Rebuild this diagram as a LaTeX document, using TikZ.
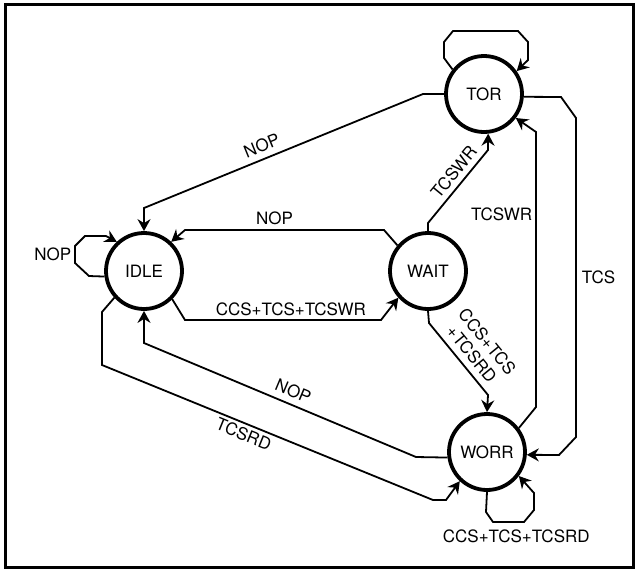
\documentclass[tikz,border=0pt]{standalone}
\usepackage{fontspec}
\setmainfont{TeX Gyre Heros}
\usetikzlibrary{arrows.meta}
\tikzset{
  state/.style={draw, circle, line width=3.8pt, minimum size=76pt, inner sep=0pt,
    font=\fontsize{17}{20}\selectfont},
  tr/.style={line width=1.8pt, -{Stealth[length=12pt,width=13pt,inset=4pt]}},
  lbl/.style={font=\fontsize{17}{20}\selectfont, inner sep=3pt}
}
\begin{document}
\begin{tikzpicture}[x=1pt, y=-1pt]
  \useasboundingbox (0,0) rectangle (636,571);
  \draw[line width=3pt] (5,4) rectangle (633,567);
  \node[state] (tor)  at (484,94)  {TOR};
  \node[state] (idle) at (144,271) {IDLE};
  \node[state] (wait) at (428,271) {WAIT};
  \node[state] (worr) at (487,452) {WORR};
  % loops
  \draw[tr] (tor.142) -- (444,58) -- (444,42) -- (453,31) -- (518,31) -- (528,42) -- (528,60) -- (tor.35);
  \draw[tr] (idle.-172) -- (89,276) -- (75,263) -- (75,246) node[lbl, midway, left] {NOP}
    -- (85,236) -- (106,236) -- (idle.133);
  \draw[tr] (worr.south) -- (486,512) -- (493,522) -- (524,522) node[lbl, pos=0.75, below=4pt] {CCS+TCS+TCSRD}
    -- (534,510) -- (534,493) -- (worr.-37);
  % transitions
  \draw[tr] (tor.west) -- (423,94) -- (144,208) node[lbl, pos=0.56, sloped, above=3pt] {NOP} -- (idle.north);
  \draw[tr] (wait.140) -- (384,230) -- (185,230) node[lbl, pos=0.55, above=1pt] {NOP} -- (idle.47);
  \draw[tr] (idle.-45) -- (185,320) -- (381,320) node[lbl, pos=0.54, above] {CCS+TCS+TCSWR} -- (wait.-138);
  \draw[tr] (worr.-172) -- (416,457) -- (144,343) node[lbl, pos=0.47, sloped, above=3pt] {NOP} -- (idle.south);
  \draw[tr] (idle.-138) -- (102,312) -- (102,365) -- (433,500) node[lbl, pos=0.44, sloped, below] {TCSRD}
    -- (446,500) -- (worr.-133);
  \draw[tr] (wait.north) -- (428,223) -- (488,150) node[lbl, pos=0.59, sloped, above=2pt] {TCSWR} -- (tor.-84);
  \draw[tr] (worr.37) -- (536,407) -- (536,132) node[lbl, pos=0.7, left] {TCSWR} -- (tor.-37);
  \draw[tr] (tor.-4) -- (561,97) -- (576,118) -- (576,437) node[lbl, midway, right=2pt] {TCS} -- (559,455) -- (worr.-4);
  \draw[tr] (wait.south) -- (429,323) -- (488,395) node[lbl, pos=0.55, sloped, above=3pt, align=center] {CCS+TCS\\+TCSRD}
    -- (worr.north);
\end{tikzpicture}
\end{document}
